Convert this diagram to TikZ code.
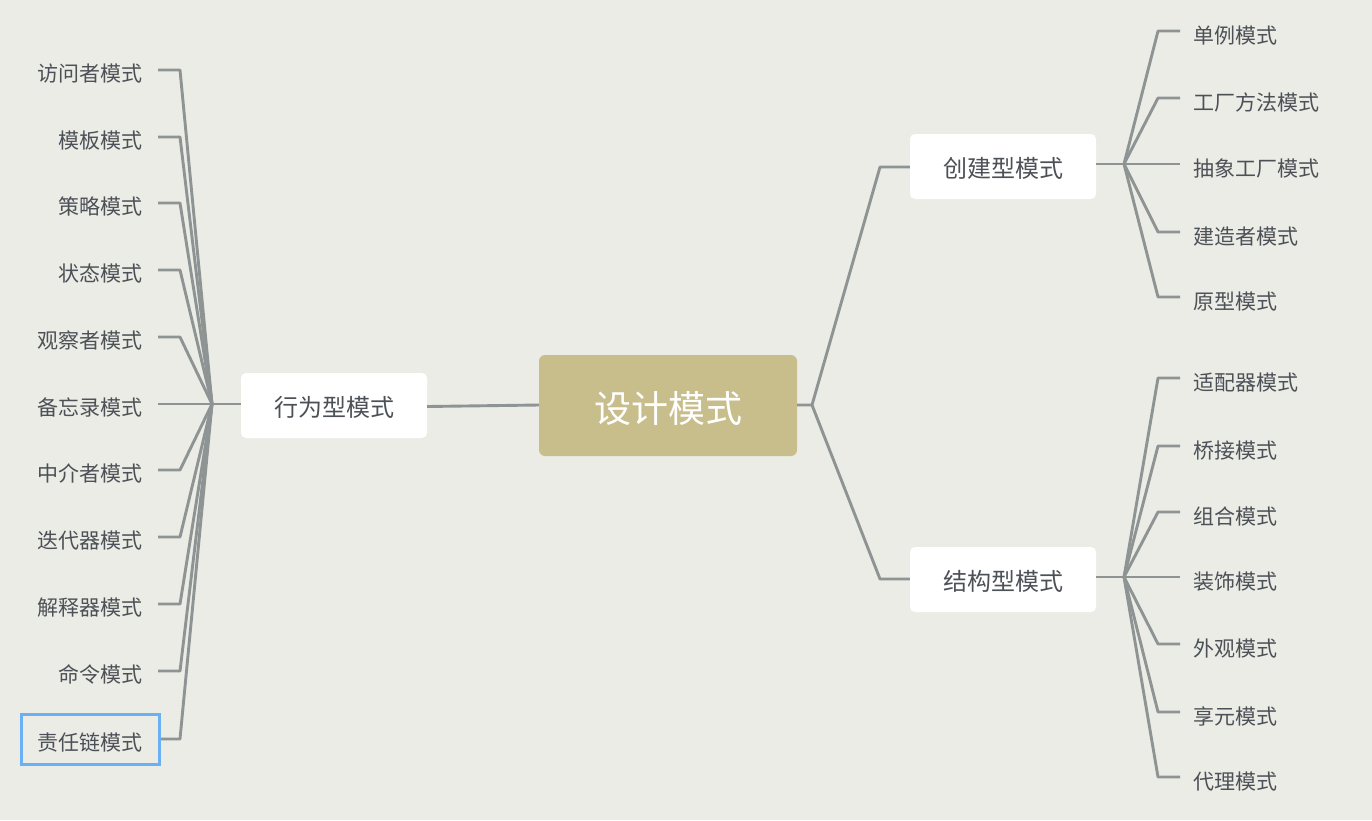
\documentclass[tikz,border=0pt]{standalone}
\usepackage{fontspec}
\newfontfamily\cjk{Noto Sans CJK SC}
\definecolor{bgc}{HTML}{ECECE6}
\definecolor{linec}{HTML}{8E9494}
\definecolor{txtc}{HTML}{4C5157}
\definecolor{rootc}{HTML}{C8BE8C}
\definecolor{selc}{HTML}{6AB0F5}
\tikzset{
  conn/.style={draw=linec, line width=2.9pt, line join=round},
  leafnode/.style={inner sep=0pt, text height=19.5pt, text depth=2.5pt, text=txtc, font=\cjk\fontsize{21}{24}\selectfont},
  topicbox/.style={inner sep=0pt, text height=25.1pt, text depth=2.9pt, fill=white, rounded corners=5pt, minimum width=186pt, minimum height=65pt, text=txtc, font=\cjk\fontsize{24}{28}\selectfont},
  rootbox/.style={inner sep=0pt, text height=38.6pt, text depth=4.4pt, fill=rootc, rounded corners=6pt, minimum width=258pt, minimum height=101pt, text=white, font=\cjk\fontsize{37}{42}\selectfont},
  selframe/.style={draw=selc, line width=2.8pt, inner sep=0pt, minimum width=138pt, minimum height=50pt},
}
\begin{document}
\begin{tikzpicture}[x=1pt,y=-1pt]
\fill[bgc] (0,0) rectangle (1372,820);
\useasboundingbox (0,0) rectangle (1372,820);

% root and topics
\node[rootbox] (root) at (668,405.5) {设计模式};
\node[topicbox] (create) at (1003,166.5) {创建型模式};
\node[topicbox] (struct) at (1003,579.5) {结构型模式};
\node[topicbox] (behav) at (334,405.5) {行为型模式};

% root connectors
\coordinate (rj) at (812,405);
\draw[conn] (root.east |- rj) -- (rj) -- (880,167) -- (create.west |- 0,167);
\draw[conn] (rj) -- (880,579) -- (struct.west |- 0,579);
\draw[conn] (root.west |- 0,405) -- (behav.east |- 0,406.5);

% creational children
\coordinate (ch) at (1124,164);
\draw[conn] (create.east |- ch) -- (ch);
\foreach \i/\ly/\t in {1/31/单例模式, 2/98/工厂方法模式, 3/164/抽象工厂模式, 4/232/建造者模式, 5/297/原型模式}{
  \node[leafnode, anchor=west] (c\i) at (1193,\ly+4) {\t};
  \draw[conn] (ch) -- (1158,\ly) -- (1180,\ly);
}

% structural children
\coordinate (sh) at (1124,577);
\draw[conn] (struct.east |- sh) -- (sh);
\foreach \i/\ly/\t in {1/378/适配器模式, 2/446/桥接模式, 3/512/组合模式, 4/577/装饰模式, 5/644/外观模式, 6/712/享元模式, 7/777/代理模式}{
  \node[leafnode, anchor=west] (s\i) at (1193,\ly+4) {\t};
  \draw[conn] (sh) -- (1158,\ly) -- (1180,\ly);
}

% behavioural children
\coordinate (bh) at (212,404);
\draw[conn] (behav.west |- bh) -- (bh);
\foreach \i/\ly/\t in {1/70/访问者模式, 2/137/模板模式, 3/203/策略模式, 4/270/状态模式, 5/337/观察者模式, 6/404/备忘录模式, 7/470/中介者模式, 8/537/迭代器模式, 9/604/解释器模式, 10/671/命令模式, 11/739/责任链模式}{
  \node[leafnode, anchor=east] (b\i) at (143,\ly+3) {\t};
  \draw[conn] (bh) -- (180,\ly) -- (158,\ly);
}

% selection frame
\node[selframe] (sel) at (90.5,739.5) {};
\end{tikzpicture}
\end{document}
